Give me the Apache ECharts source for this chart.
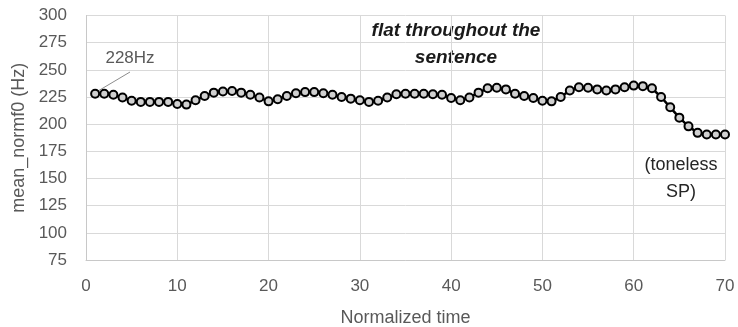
<!DOCTYPE html>
<html>
<head>
<meta charset="utf-8">
<script src="https://cdn.jsdelivr.net/npm/echarts@6/dist/echarts.min.js"></script>
<style>
  html, body { margin: 0; padding: 0; background: #fff; }
  #main { width: 738px; height: 327px; }
</style>
</head>
<body>
<div id="main"></div>
<script>
// normalized time points 1..70
const times = [];
for (let i = 1; i <= 70; i++) times.push(i);

// mean normalized f0 (Hz)
const f0 = [
  228, 228, 227, 224.5, 221.5, 220.5, 220.5, 220.5, 220.5, 218.5,
  218, 222, 226, 229, 230, 230.5, 229, 227, 224.5, 221,
  223, 226, 228.5, 229.5, 229.5, 228.5, 227, 225, 223.5, 222,
  220.5, 221.5, 224.5, 227.5, 228, 228, 228, 227.5, 227, 224,
  222, 224.5, 229, 233, 233.5, 232, 228, 226, 224, 221.5,
  221, 225, 231, 234, 233.5, 232, 231, 232, 234, 235.5,
  235, 233, 225, 215.5, 206, 198, 192, 190.5, 190.5, 190.5
];

const yTicks = { min: 75, max: 300, step: 25 };
const xTicks = { min: 0, max: 70, step: 10 };

const fontFam = '"Liberation Sans", Arial, sans-serif';
const grey = '#595959';

let myChart = echarts.init(document.getElementById('main'));
myChart.setOption({
  animation: false,
  grid: { left: 86, right: 13, top: 15.5, bottom: 67, outerBoundsMode: 'none', containLabel: false },
  xAxis: {
    type: 'value',
    min: xTicks.min,
    max: xTicks.max,
    interval: xTicks.step,
    name: 'Normalized time',
    nameLocation: 'middle',
    nameGap: 49,
    nameTextStyle: { color: grey, fontSize: 18, fontFamily: fontFam },
    axisLine: { show: true, lineStyle: { color: '#c8c8c8', width: 1 } },
    axisTick: { show: false },
    axisLabel: { color: grey, fontSize: 17, fontFamily: fontFam, margin: 18 },
    splitLine: { show: true, lineStyle: { color: '#d9d9d9', width: 1 } }
  },
  yAxis: {
    type: 'value',
    min: yTicks.min,
    max: yTicks.max,
    interval: yTicks.step,
    name: 'mean_normf0 (Hz)',
    nameLocation: 'middle',
    nameGap: 58,
    nameTextStyle: { color: grey, fontSize: 18, fontFamily: fontFam },
    axisLine: { show: true, lineStyle: { color: '#c8c8c8', width: 1 } },
    axisTick: { show: false },
    axisLabel: { color: grey, fontSize: 17, fontFamily: fontFam, margin: 19 },
    splitLine: { show: true, lineStyle: { color: '#d9d9d9', width: 1 } }
  },
  series: [{
    type: 'line',
    data: times.map((t, i) => [t, f0[i]]),
    symbol: 'circle',
    symbolSize: 8,
    showAllSymbol: true,
    lineStyle: { color: '#000', width: 2.5 },
    itemStyle: { color: '#d0d0d0', borderColor: '#000', borderWidth: 2 }
  }],
  graphic: [
    { type: 'line', shape: { x1: 130, y1: 72, x2: 98, y2: 91 },
      style: { stroke: '#8c8c8c', lineWidth: 1 } },
    { type: 'text', x: 130, y: 58,
      style: { text: '228Hz', fill: grey, font: '17px ' + fontFam, align: 'center', verticalAlign: 'middle' } },
    { type: 'text', x: 456, y: 31,
      style: { text: 'flat throughout the', fill: '#1a1a1a', font: 'italic bold 19px ' + fontFam, align: 'center', verticalAlign: 'middle' } },
    { type: 'text', x: 456, y: 58,
      style: { text: 'sentence', fill: '#1a1a1a', font: 'italic bold 19px ' + fontFam, align: 'center', verticalAlign: 'middle' } },
    { type: 'text', x: 681, y: 165,
      style: { text: '(toneless', fill: '#262626', font: '18px ' + fontFam, align: 'center', verticalAlign: 'middle' } },
    { type: 'text', x: 681, y: 192,
      style: { text: 'SP)', fill: '#262626', font: '18px ' + fontFam, align: 'center', verticalAlign: 'middle' } }
  ]
});
window.addEventListener('resize', () => { myChart.resize() });
</script>
</body>
</html>
